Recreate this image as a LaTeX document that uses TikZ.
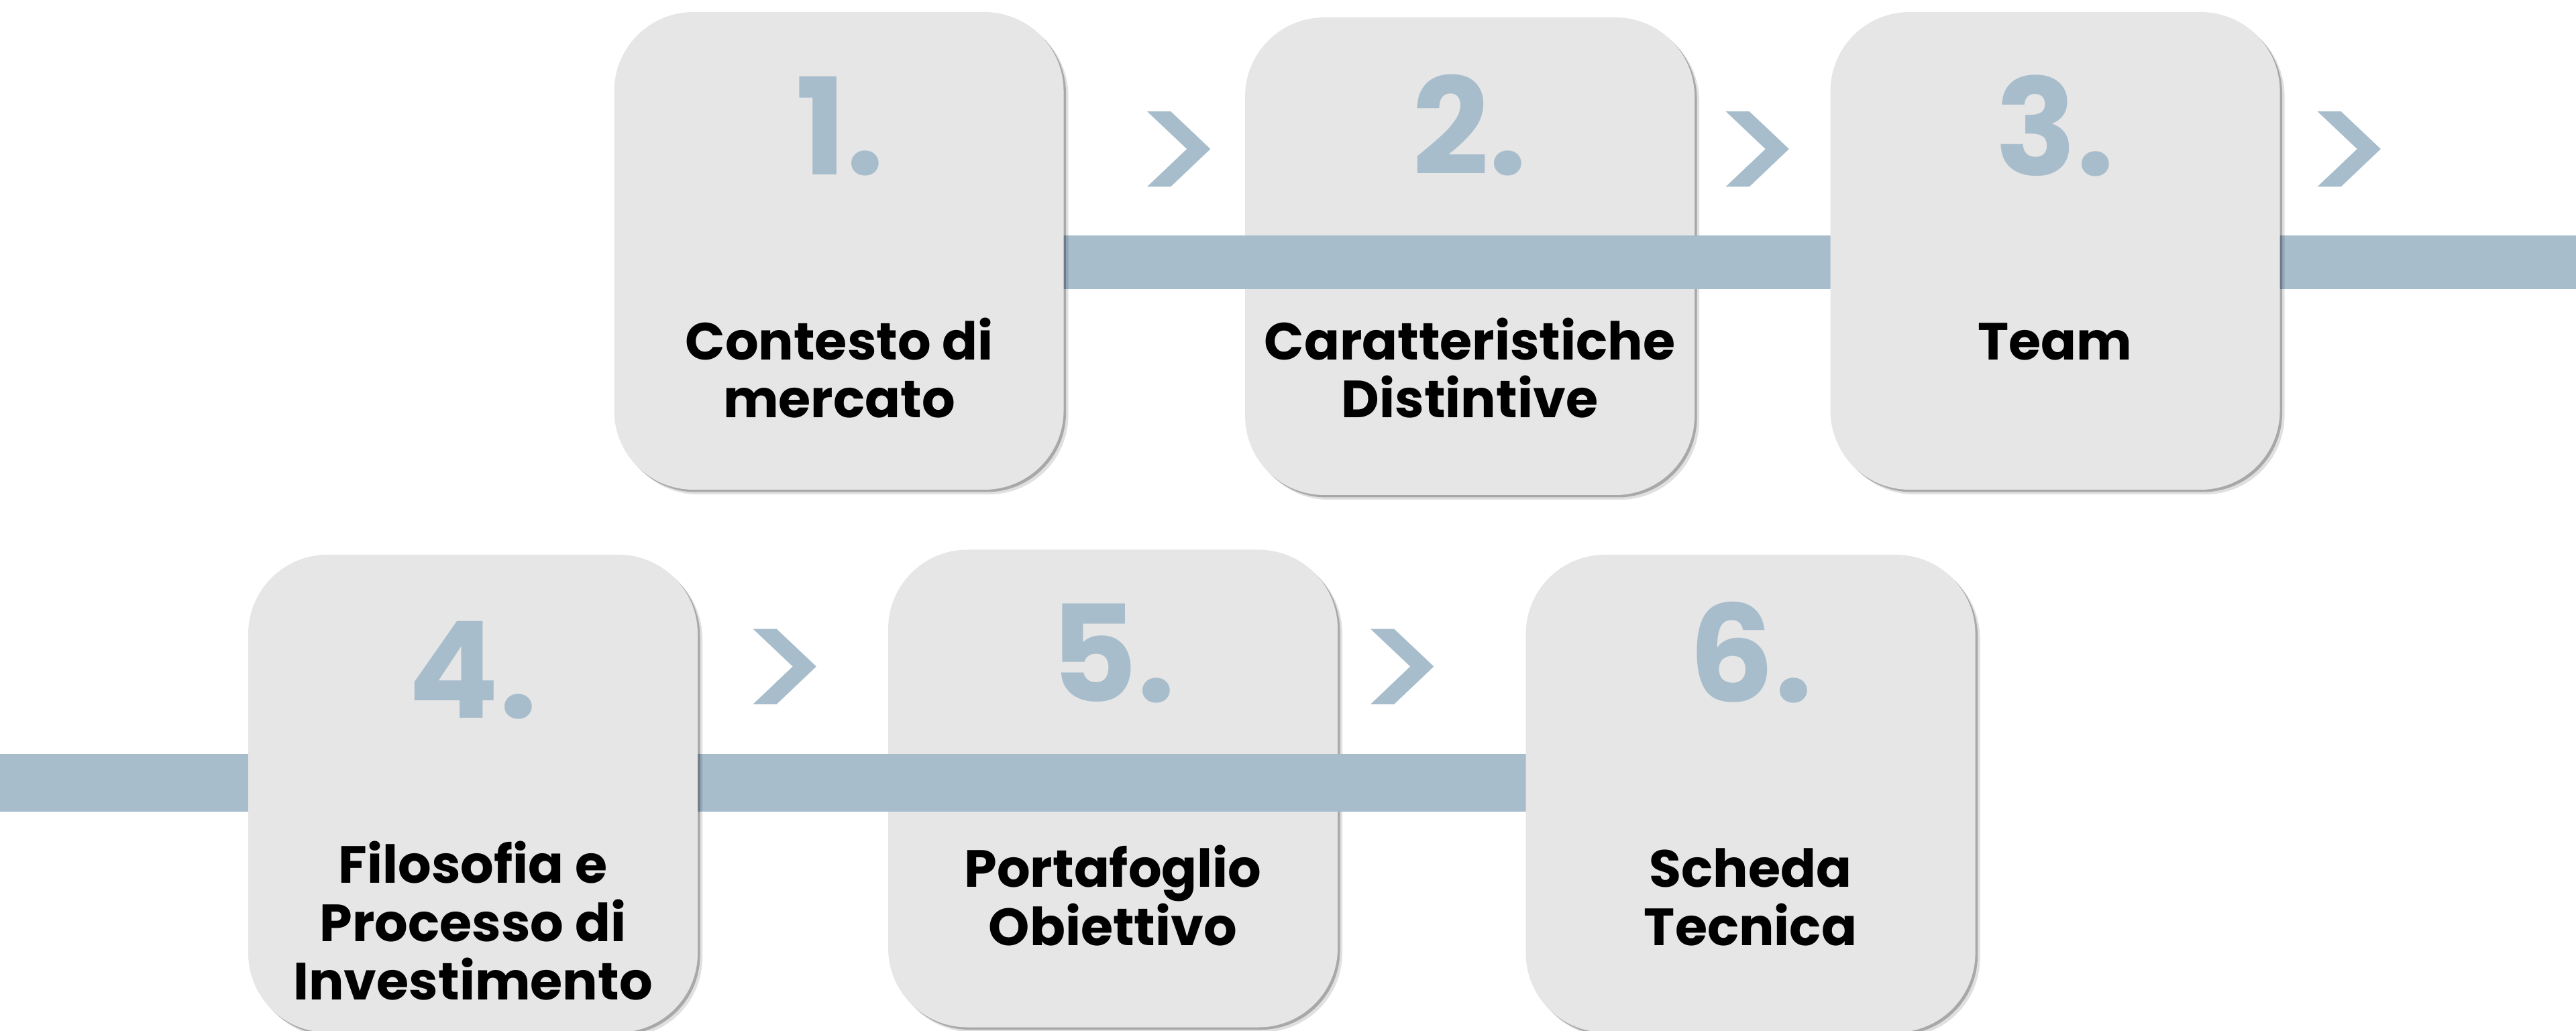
\documentclass[tikz,border=0pt]{standalone}
\usepackage{fontspec}
\setmainfont{Poppins}
\newfontfamily\chevfont{Poppins}[FakeBold=2.5]
\usetikzlibrary{shadows}
\definecolor{boxgray}{HTML}{E6E6E6}
\definecolor{steel}{HTML}{A7BDCC}
\tikzset{
  stepbox/.style={rectangle, rounded corners=1.18cm, fill=boxgray, minimum width=6.7cm, minimum height=7.12cm, inner sep=0pt,
    drop shadow={shadow xshift=0.07cm, shadow yshift=-0.07cm, opacity=.12, fill=black},
    drop shadow={shadow xshift=0.035cm, shadow yshift=-0.035cm, opacity=.25, fill=black}},
  stepnum/.style={anchor=base, text=steel, inner sep=0pt, font=\fontsize{57}{57}\selectfont\bfseries},
  steptext/.style={anchor=base, align=center, inner sep=0pt, font=\fontsize{22.2}{24.7}\selectfont\bfseries},
  chevron/.style={anchor=base, text=steel, inner sep=0pt, font=\fontsize{66}{66}\chevfont},
  railbar/.style={draw=steel, line width=#1, preaction={draw=black, opacity=.28, transform canvas={yshift=-0.05cm}}},
}
\begin{document}
\begin{tikzpicture}
    \useasboundingbox (0,0) rectangle (38.4,-15.37);
    \coordinate (topend) at (38.4,-3.91);
    \coordinate (botstart) at (0,-11.67);
    \node[stepbox] (box2) at (21.91,-3.82)   {};
    \node[stepbox] (box5) at (16.59,-11.755) {};
    \coordinate (box1) at (12.505,-3.74);
    \coordinate (box6) at (26.095,-11.83);
    \draw[railbar=0.8cm]  (box1 |- topend) -- (topend);
    \draw[railbar=0.86cm] (botstart) -- (box6 |- botstart);
    \node[stepbox] (box1) at (12.505,-3.74)  {};
    \node[stepbox] (box3) at (30.635,-3.74)  {};
    \node[stepbox] (box4) at (7.05,-11.83)   {};
    \node[stepbox] (box6) at (26.095,-11.83) {};
    \node[stepnum] (num1) at (12.52,-2.61)  {1.};
    \node[stepnum] (num2) at (21.91,-2.61)  {2.};
    \node[stepnum] (num3) at (30.635,-2.62) {3.};
    \node[stepnum] (num4) at (7.05,-10.70)  {4.};
    \node[stepnum] (num5) at (16.59,-10.46) {5.};
    \node[stepnum] (num6) at (26.095,-10.46) {6.};
    \node[steptext] (txt1) at (12.51,-6.23)  {Contesto di\\mercato};
    \node[steptext] (txt2) at (21.91,-6.23)  {Caratteristiche\\Distintive};
    \node[steptext] (txt3) at (30.635,-5.37) {Team};
    \node[steptext] (txt4) at (7.05,-14.90)  {Filosofia e\\Processo di\\Investimento};
    \node[steptext] (txt5) at (16.59,-14.09) {Portafoglio\\Obiettivo};
    \node[steptext] (txt6) at (26.095,-14.09) {Scheda\\Tecnica};
    \node[chevron] (chev1) at (17.58,-3.07)  {>};
    \node[chevron] (chev2) at (26.205,-3.07) {>};
    \node[chevron] (chev3) at (35.025,-3.07) {>};
    \node[chevron] (chev4) at (11.705,-10.785) {>};
    \node[chevron] (chev5) at (20.91,-10.785)  {>};
\end{tikzpicture}
\end{document}
